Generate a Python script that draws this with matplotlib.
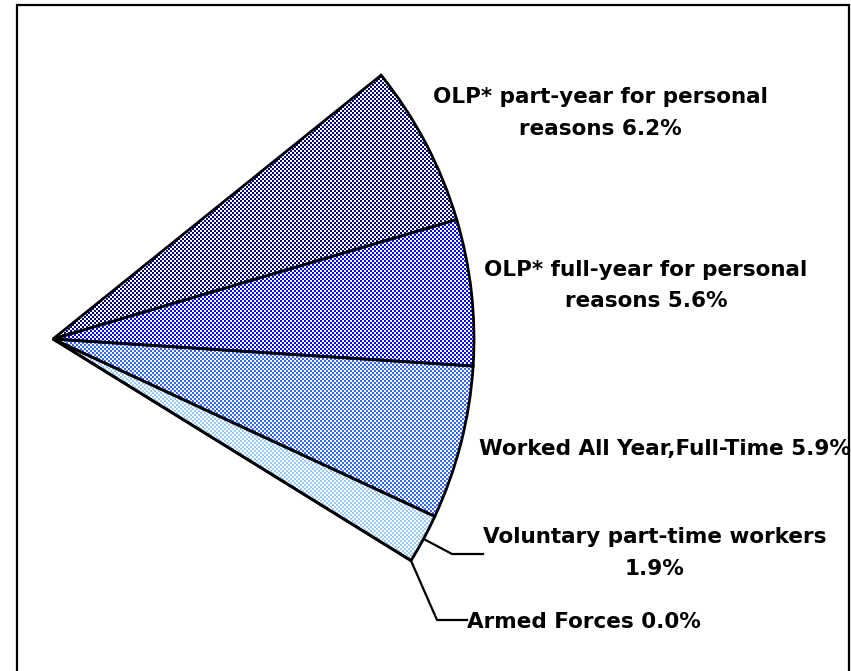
import matplotlib
matplotlib.use("Agg")
import matplotlib.pyplot as plt
import numpy as np
from matplotlib.colors import to_rgb

# ---- data ----
categories = [
    "OLP* part-year for personal\nreasons",
    "OLP* full-year for personal\nreasons",
    "Worked All Year,Full-Time",
    "Voluntary part-time workers",
    "Armed Forces",
]
values = [6.2, 5.6, 5.9, 1.9, 0.0]          # percent of total
label_sep = [" ", " ", " ", "\n", " "]
fill_colors = ["#000080", "#0000FF", "#3366FF", "#99CCFF", "#CCFFFF"]

W, H = 851, 671
plt.rcParams["font.family"] = ["DejaVu Sans"]

fig = plt.figure(figsize=(W / 100, H / 100), dpi=100)
ax = fig.add_axes([0, 0, 1, 1])

cx, cy = 53, H - 339
R = 421
fracs = [v / 100.0 for v in values]
wedges, _ = ax.pie(fracs, normalize=False, startangle=38.8, counterclock=False,
                   center=(cx, cy), radius=R, colors=["none"] * len(values),
                   wedgeprops=dict(edgecolor="black", linewidth=2.0), frame=True)

ax.set_xlim(0, W)
ax.set_ylim(0, H)
ax.set_aspect("auto")
ax.axis("off")
ax.patch.set_visible(False)

# checkerboard (dithered) fills clipped to each wedge, placed pixel-exact
rows, cols = np.indices((H, W))
chk = ((rows // 2 + cols // 2) % 2) == 0
for w, col, v in zip(wedges, fill_colors, values):
    if v <= 0:
        continue
    img = np.ones((H, W, 3))
    img[chk] = to_rgb(col)
    im = fig.figimage(img, xo=0, yo=0, origin="upper", zorder=-1)
    im.set_clip_path(w)

labels = [f"{c}{s}{v:.1f}%" for c, s, v in zip(categories, label_sep, values)]

# label layout: (x, baseline y of first line, ha, line gap) in pixel coords (y from top)
lab_pos = [
    (600, 103, "center", 32),
    (646, 276, "center", 31),
    (479, 455, "left", 32),
    (483, 543, "left", 32),
    (467, 628, "left", 32),
]
fs = 15.5
fw = "bold"
for lab, (x, y, ha, gap) in zip(labels, lab_pos):
    lines = lab.split("\n")
    t = ax.text(x, H - y, lines[0], ha=ha, va="baseline", fontsize=fs,
                fontweight=fw, color="black")
    if len(lines) > 1:
        if ha == "left":
            fig.canvas.draw()
            bb = t.get_window_extent()
            xc = (bb.x0 + bb.x1) / 2
        else:
            xc = x
        for k, ln in enumerate(lines[1:], start=1):
            ax.text(xc, H - y - gap * k, ln, ha="center", va="baseline",
                    fontsize=fs, fontweight=fw, color="black")

# leader lines for the two small slices
leader_ends = {3: ((452, 554), (483, 554)), 4: ((437, 620), (467, 620))}
for i, (p1, p2) in leader_ends.items():
    w = wedges[i]
    th = np.deg2rad((w.theta1 + w.theta2) / 2)
    x0, y0 = cx + R * np.cos(th), cy + R * np.sin(th)
    ax.plot([x0, p1[0], p2[0]], [y0, H - p1[1], H - p2[1]], color="black",
            lw=1.6, solid_joinstyle="miter", zorder=3)

# outer frame
ax.plot([17, 17, 849, 849], [-5, H - 5, H - 5, -5], color="black", lw=1.6,
        solid_joinstyle="miter", clip_on=False, zorder=3)

fig.savefig("out.png", dpi=100)
